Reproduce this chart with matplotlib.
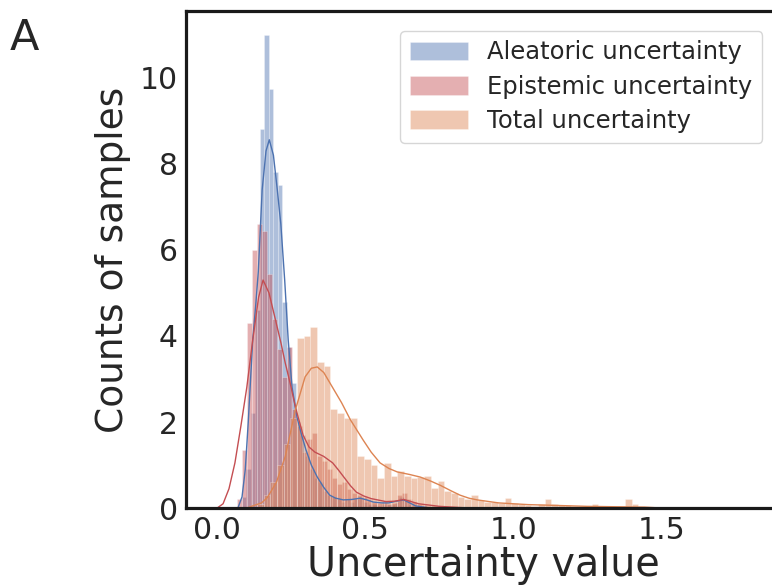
import matplotlib.pyplot as plt
import numpy as np
import seaborn as sns

sns.set_style("white")
plt.rcParams['font.family'] = ['DejaVu Sans']

# histogram data: first bin edge, bin width, density per bin
ale_start = 0.0828
ale_width = 0.0152
ale_heights = [0.25, 0.9, 2.2, 4.6, 8.8, 11.0, 9.75, 7.8, 7.5, 4.8, 3.75, 2.9, 2.0, 1.7,
               1.2, 0.9, 0.7, 0.6, 0.4, 0.3, 0.25, 0.2, 0.15, 0.2, 0.15, 0.2, 0.25, 0.15,
               0.1, 0.1, 0.05, 0.1, 0.1, 0.1, 0.15, 0.25, 0.2, 0.1, 0.05]

epi_start = 0.0675
epi_width = 0.0169
epi_heights = [0.2, 1.35, 4.3, 6.0, 6.6, 6.45, 5.45, 4.4, 3.7, 3.05, 3.75, 2.3, 1.9, 1.3,
               1.6, 1.75, 1.2, 1.1, 0.9, 0.7, 0.55, 0.6, 0.45, 0.35, 0.3, 0.25, 0.2, 0.15,
               0.12, 0.15, 0.1, 0.12, 0.3, 0.35, 0.2, 0.15, 0.1, 0.08, 0.05, 0.05, 0.03,
               0.03, 0.02]

tot_start = 0.134
tot_width = 0.0226
tot_heights = [0.1, 0.3, 0.6, 1.0, 1.5, 2.1, 3.95, 4.0, 4.2, 3.4, 3.3, 2.3, 2.2, 2.1, 2.1,
               1.2, 1.15, 1.0, 0.7, 1.05, 0.75, 0.85, 0.75, 0.7, 0.72, 0.75, 0.46, 0.62,
               0.4, 0.35, 0.25, 0.2, 0.3, 0.18, 0.15, 0.15, 0.12, 0.23, 0.12, 0.1, 0.08,
               0.05, 0.1, 0.2, 0.1, 0.08, 0.08, 0.05, 0.05, 0.05, 0.1, 0.03, 0.03, 0.03,
               0.05, 0.2, 0.1, 0.05]

# density curves
ale_kde_x = [0.07, 0.084, 0.095, 0.105, 0.12, 0.13, 0.139, 0.152, 0.165, 0.176, 0.19, 0.203,
             0.215, 0.228, 0.24, 0.253, 0.27, 0.285, 0.30, 0.318, 0.338, 0.36, 0.38, 0.40,
             0.426, 0.455, 0.483, 0.505, 0.527, 0.555, 0.58, 0.605, 0.63, 0.65, 0.67, 0.72]
ale_kde_y = [0.0, 0.26, 0.9, 2.0, 3.9, 4.7, 5.5, 7.4, 8.3, 8.56, 8.2, 7.4,
             6.6, 5.3, 3.9, 2.8, 2.1, 1.7, 1.35, 1.0, 0.72, 0.48, 0.3, 0.23,
             0.19, 0.2, 0.23, 0.19, 0.14, 0.12, 0.12, 0.16, 0.19, 0.12, 0.05, 0.0]

epi_kde_x = [0.0, 0.02, 0.04, 0.06, 0.08, 0.10, 0.12, 0.14, 0.155, 0.175, 0.196, 0.215,
             0.23, 0.25, 0.264, 0.29, 0.31, 0.33, 0.36, 0.39, 0.41, 0.43, 0.45, 0.47,
             0.495, 0.52, 0.57, 0.60, 0.63, 0.66, 0.68, 0.75, 0.85]
epi_kde_y = [0.0, 0.1, 0.45, 1.05, 1.9, 2.8, 3.9, 4.9, 5.3, 5.0, 4.4, 3.85,
             3.37, 2.8, 2.35, 1.7, 1.42, 1.3, 1.2, 1.05, 0.88, 0.7, 0.52, 0.37,
             0.28, 0.22, 0.15, 0.16, 0.2, 0.14, 0.1, 0.04, 0.0]

tot_kde_x = [0.10, 0.12, 0.15, 0.17, 0.20, 0.23, 0.264, 0.297, 0.318, 0.338, 0.36, 0.39,
             0.42, 0.45, 0.493, 0.52, 0.55, 0.58, 0.608, 0.65, 0.686, 0.72, 0.753, 0.79,
             0.82, 0.85, 0.878, 0.95, 1.05, 1.15, 1.25, 1.35, 1.45, 1.5]
tot_kde_y = [0.0, 0.05, 0.12, 0.25, 0.6, 1.2, 2.28, 3.05, 3.25, 3.28, 3.15, 2.8,
             2.45, 2.05, 1.58, 1.3, 1.05, 0.92, 0.84, 0.78, 0.72, 0.63, 0.53, 0.4,
             0.3, 0.23, 0.19, 0.12, 0.08, 0.06, 0.04, 0.03, 0.02, 0.0]

labels = ["Aleatoric uncertainty", "Epistemic uncertainty", "Total uncertainty"]
colors = ["#4C72B0", "#C44E52", "#DD8452"]

series = [(ale_start, ale_width, ale_heights, ale_kde_x, ale_kde_y),
          (epi_start, epi_width, epi_heights, epi_kde_x, epi_kde_y),
          (tot_start, tot_width, tot_heights, tot_kde_x, tot_kde_y)]

fig = plt.figure(figsize=(7.72, 5.86), dpi=100)
ax = fig.add_axes([0.241, 0.133, 0.77, 0.848])

for (start, width, heights, kx, ky), lab, col in zip(series, labels, colors):
    edges = start + width * np.arange(len(heights))
    ax.bar(edges, heights, width=width, align='edge', color=col, alpha=0.45,
           edgecolor='white', linewidth=0.4, label=lab)
    ax.plot(kx, ky, color=col, lw=1.0)

ax.set_xlim(-0.105, 1.902)
ax.set_ylim(0, 11.55)
ax.set_xticks([0.0, 0.5, 1.0, 1.5])
ax.set_yticks([0, 2, 4, 6, 8, 10])
ax.tick_params(labelsize=21.5, length=0, pad=6)
for s in ax.spines.values():
    s.set_color('#1a1a1a')
    s.set_linewidth(2.3)

ax.set_xlabel("Uncertainty value", fontsize=28.5, labelpad=0)
ax.set_ylabel("Counts of samples", fontsize=27, labelpad=6)

ax.legend(loc='upper right', bbox_to_anchor=(0.99, 0.985), fontsize=17.5,
          frameon=True, handlelength=2.4, handleheight=0.8, borderpad=0.4,
          labelspacing=0.42, handletextpad=0.8)

fig.text(0.012, 0.915, "A", fontsize=31)

fig.savefig("out.png", dpi=100)
